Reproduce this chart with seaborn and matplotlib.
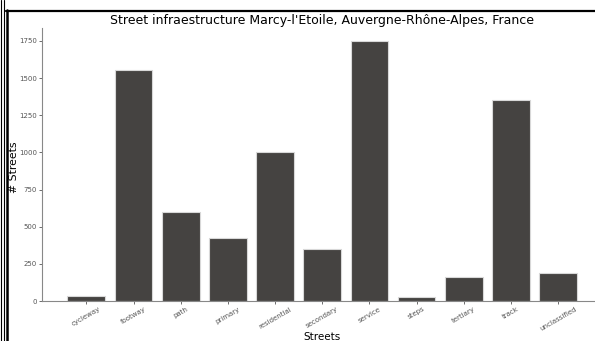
import matplotlib
matplotlib.use('Agg')
import matplotlib.pyplot as plt
import pandas as pd
import seaborn as sns
from matplotlib.lines import Line2D

streets = ['cycleway', 'footway', 'path', 'primary', 'residential', 'secondary',
           'service', 'steps', 'tertiary', 'track', 'unclassified']
counts = [34, 1556, 598, 425, 1002, 349, 1750, 26, 162, 1356, 188]

df = pd.DataFrame({'Streets': streets, 'count': counts})

sns.set_style('white')
plt.rcParams['font.family'] = ['DejaVu Sans']

fig = plt.figure(figsize=(5.95, 3.41), dpi=100)
ax = fig.add_axes([0.0706, 0.1173, 0.9419, 0.8006])

sns.barplot(data=df, x='Streets', y='count', color='#454341', saturation=1,
            edgecolor='#d8d8d8', linewidth=0.8, width=0.8, ax=ax)
ax.set_xlim(-0.94, 10.94)
ax.set_ylim(0, 1837.5)
ax.set_yticks([0, 250, 500, 750, 1000, 1250, 1500, 1750])

ax.set_title("Street infraestructure Marcy-l'Etoile, Auvergne-Rhône-Alpes, France",
             fontsize=9.0, pad=3, color='black')
ax.set_xlabel('Streets', fontsize=7.5, labelpad=0, color='black')
ax.set_ylabel('# Streets', fontsize=7.8, color='black')
ax.yaxis.set_label_coords(-0.041, 0.49)
ax.tick_params(axis='both', labelsize=5, colors='#555555', length=2, width=0.6,
               bottom=True, left=True, pad=1.5)
plt.setp(ax.get_xticklabels(), rotation=30, ha='center')
sns.despine(ax=ax)
for s in ['left', 'bottom']:
    ax.spines[s].set_color('#888888')
    ax.spines[s].set_linewidth(0.8)

# screenshot frame
W, H = 595, 341
def vline(x, y0, lw):
    fig.add_artist(Line2D([x / W, x / W], [0, 1 - y0 / H], color='black', lw=lw,
                          transform=fig.transFigure))
vline(0.5, 0, 0.8)
vline(3.5, 0, 0.8)
vline(6.5, 10, 1.8)
fig.add_artist(Line2D([5.5 / W, 1], [1 - 10.5 / H, 1 - 10.5 / H], color='black', lw=1.6,
                      transform=fig.transFigure))

fig.savefig('out.png', dpi=100)
